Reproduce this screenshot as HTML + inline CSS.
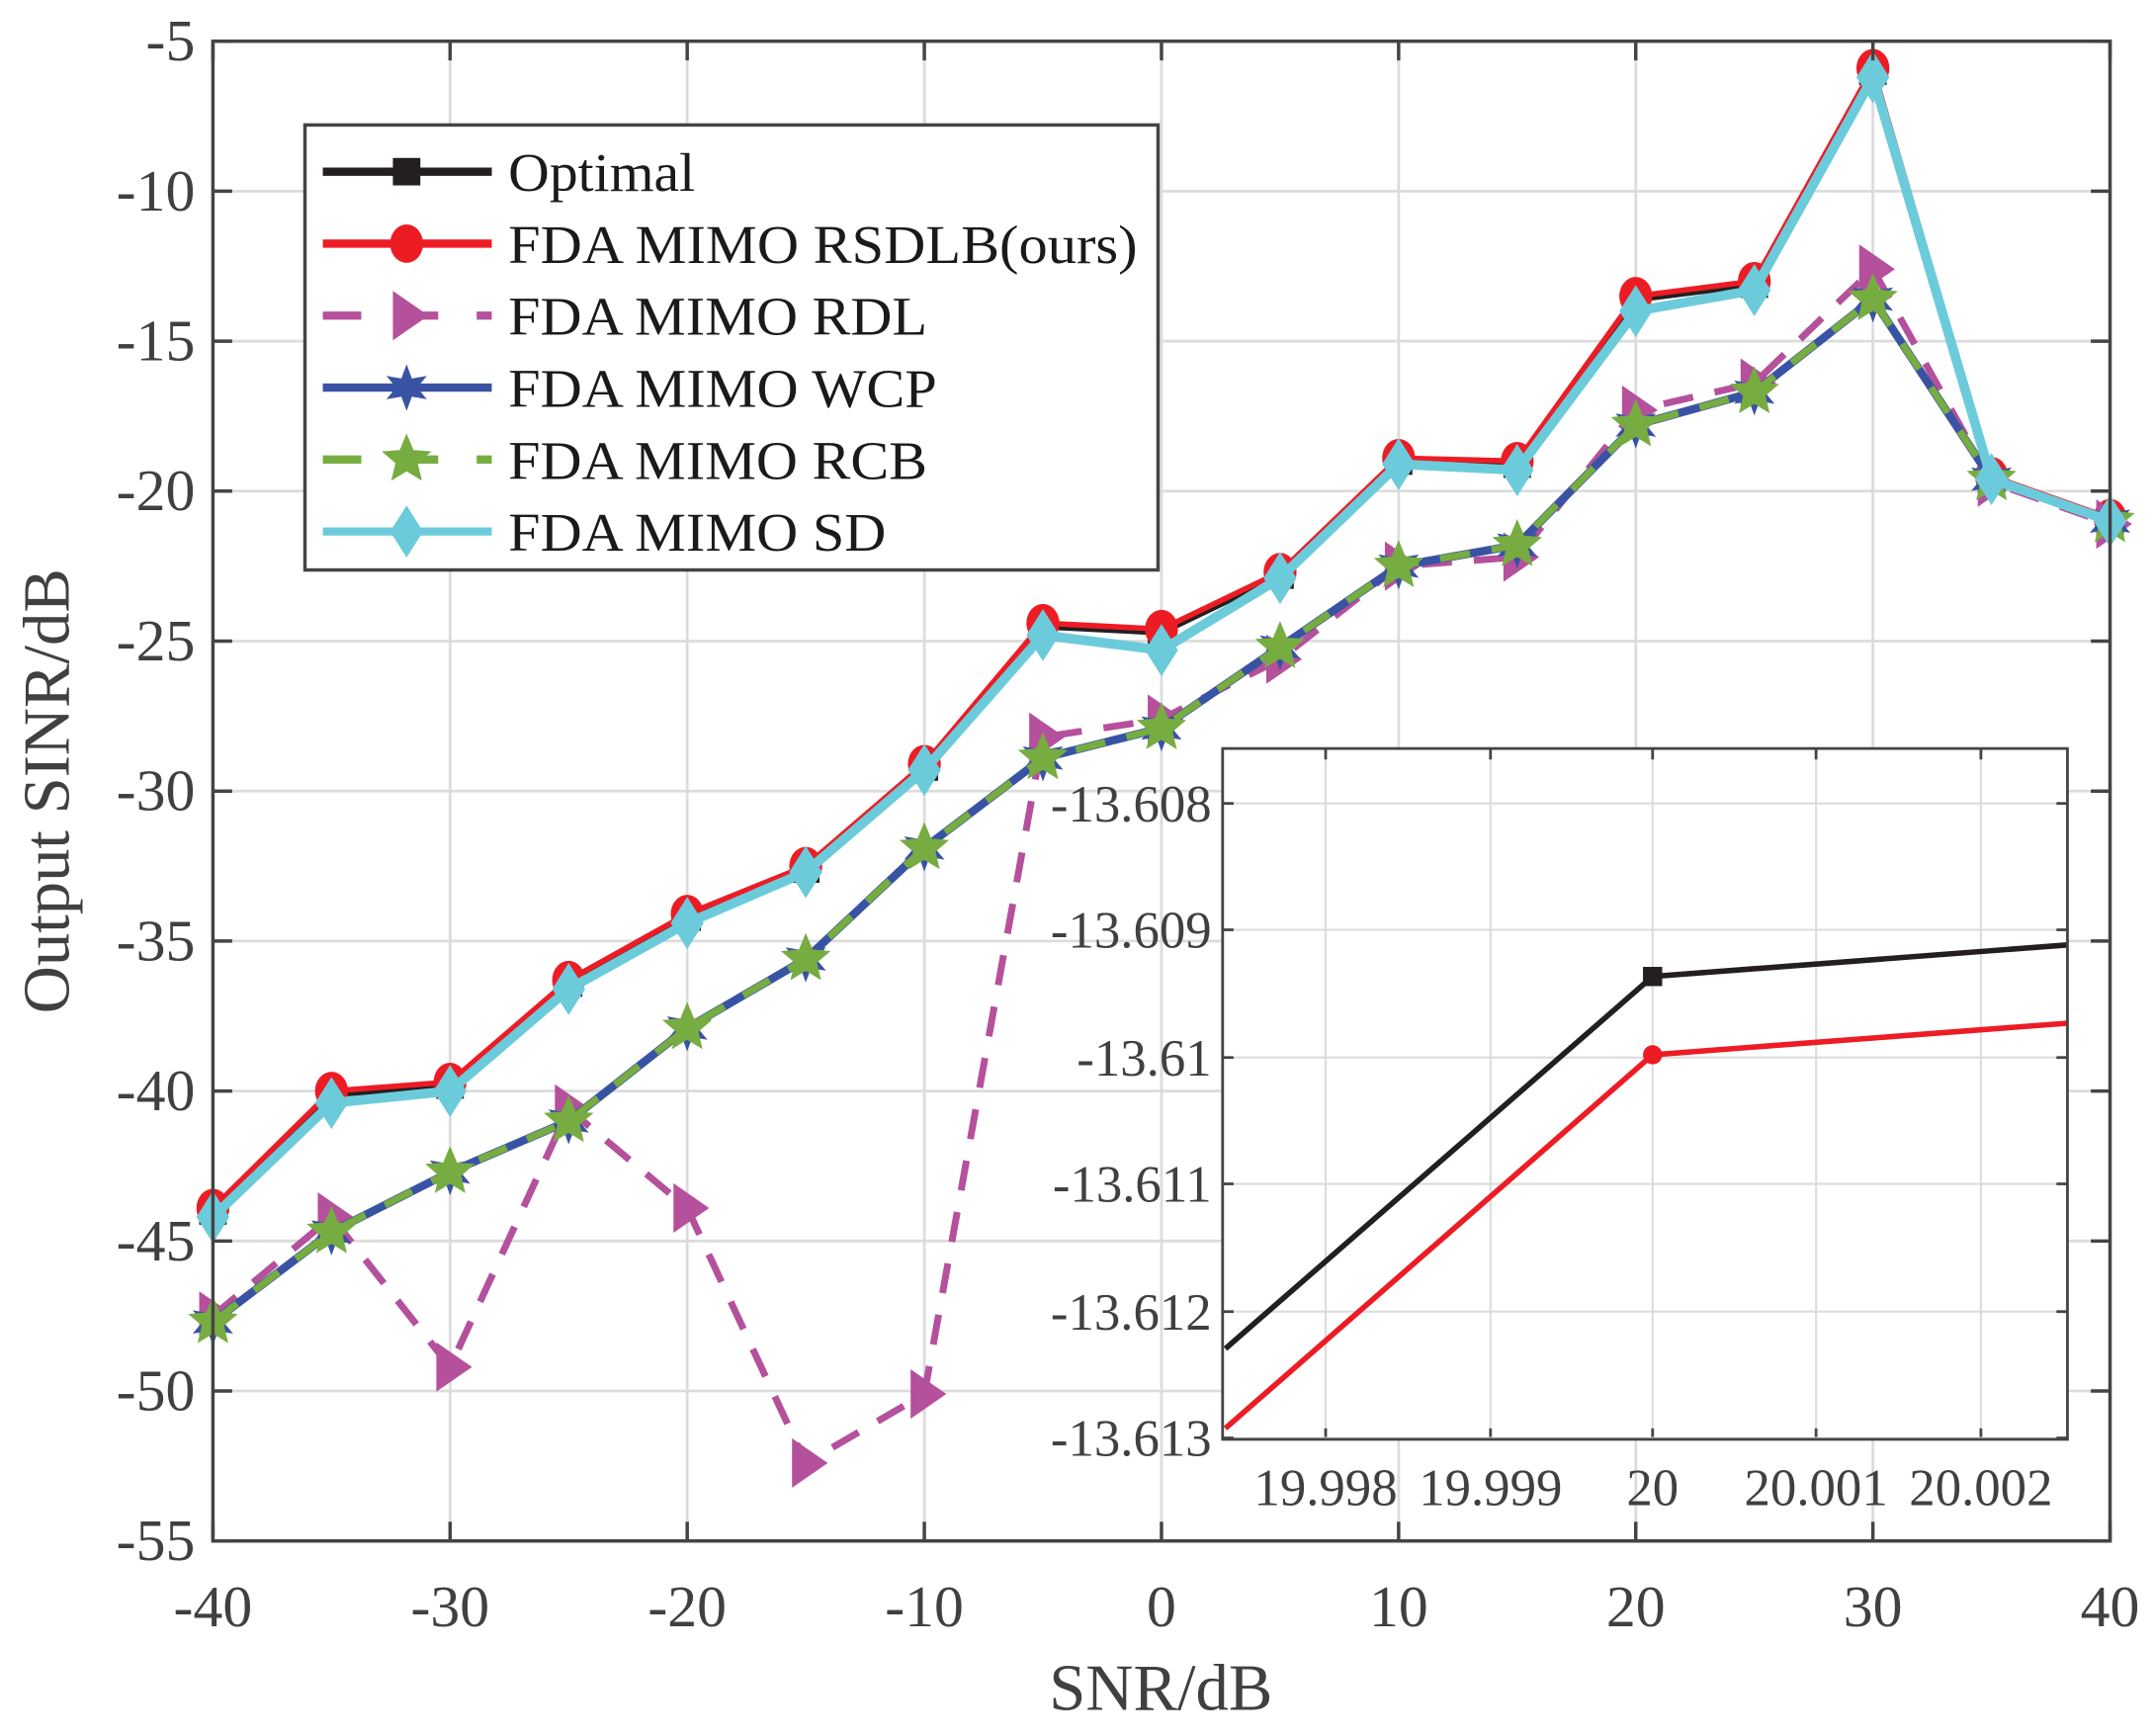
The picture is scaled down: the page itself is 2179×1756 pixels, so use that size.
<!DOCTYPE html>
<html><head><meta charset="utf-8"><style>
html,body{margin:0;padding:0;background:#fff;}
svg{display:block;}
text{font-family:"Liberation Serif",serif;fill:#404040;}
</style></head><body>
<svg id="s" width="2179" height="1756" viewBox="0 0 1568 1264" preserveAspectRatio="none" xmlns="http://www.w3.org/2000/svg">
<rect width="1568" height="1264" fill="#fff"/>
<g id="grid"></g>
<g id="series"></g>
<g id="axes"></g>
<g id="legend"></g>
<g id="inset"></g>
</svg>
<script>
const NS="http://www.w3.org/2000/svg";
function el(p,t,a,txt){const e=document.createElementNS(NS,t);for(const k in a)e.setAttribute(k,a[k]);if(txt!==undefined)e.textContent=txt;p.appendChild(e);return e;}
const G=id=>document.getElementById(id);
const L=155,R=1536,T=30,B=1122;
const X=v=>L+(v+40)/80*(R-L), Y=v=>T+(-5-v)/50*(B-T);
const grid=G('grid'),axes=G('axes');
for(let v=-40;v<=40;v+=10){el(grid,'line',{x1:X(v),x2:X(v),y1:T,y2:B,stroke:'#dcdcdc','stroke-width':2});
 el(axes,'line',{x1:X(v),x2:X(v),y1:B,y2:B-14,stroke:'#444','stroke-width':2.5});el(axes,'line',{x1:X(v),x2:X(v),y1:T,y2:T+14,stroke:'#444','stroke-width':2.5});
 el(axes,'text',{x:X(v),y:1184,'font-size':43,'text-anchor':'middle'},v);}
for(let v=-5;v>=-55;v-=5){el(grid,'line',{x1:L,x2:R,y1:Y(v),y2:Y(v),stroke:'#dcdcdc','stroke-width':2});
 el(axes,'line',{x1:L,x2:L+14,y1:Y(v),y2:Y(v),stroke:'#444','stroke-width':2.5});el(axes,'line',{x1:R,x2:R-14,y1:Y(v),y2:Y(v),stroke:'#444','stroke-width':2.5});
 el(axes,'text',{x:142,y:Y(v)+14,'font-size':43,'text-anchor':'end'},v);}
el(axes,'rect',{x:L,y:T,width:R-L,height:B-T,fill:'none',stroke:'#444','stroke-width':2.5});
el(axes,'text',{x:845,y:1245,'font-size':48,'text-anchor':'middle'},'SNR/dB');
el(axes,'text',{x:0,y:0,'font-size':48,'text-anchor':'middle',transform:'translate(50,576) rotate(-90)'},'Output SINR/dB');

const xs=[];for(let v=-40;v<=40;v+=5)xs.push(v);
const opt=[-44,-40.1,-39.8,-36.4,-34.2,-32.6,-29.2,-24.5,-24.7,-22.8,-19,-19.1,-13.6,-13.1,-6,-19.6,-21];
const sd=[-44.2,-40.4,-40,-36.6,-34.4,-32.7,-29.3,-24.8,-25.3,-22.9,-19.1,-19.3,-14,-13.3,-6.2,-19.6,-21];
const rdl=[-47.5,-44.2,-49.2,-40.6,-43.9,-52.4,-50.1,-28.2,-27.6,-25.6,-22.5,-22.2,-17.3,-16.4,-12.6,-19.7,-21.1];
const wcp=[-47.7,-44.7,-42.7,-41,-37.9,-35.6,-31.9,-28.9,-27.9,-25.2,-22.5,-21.8,-17.8,-16.7,-13.6,-19.6,-21];
function star(cx,cy,r,pts){let s='';const n=pts*2;for(let i=0;i<n;i++){const rr=i%2?r*0.45:r;const a=-Math.PI/2+i*Math.PI/pts;s+=(cx+rr*Math.cos(a))+','+(cy+rr*Math.sin(a))+' ';}return s;}
function marker(g,type,x,y,c){
 if(type=='sq')el(g,'rect',{x:x-10,y:y-10,width:20,height:20,fill:c});
 else if(type=='ci')el(g,'ellipse',{cx:x,cy:y,rx:12,ry:14,fill:c});
 else if(type=='tri')el(g,'polygon',{points:`${x-10},${y-18} ${x+16},${y} ${x-10},${y+18}`,fill:c});
 else if(type=='hex')el(g,'polygon',{points:star(x,y,17,6),fill:c});
 else if(type=='st')el(g,'polygon',{points:star(x,y,19,5),fill:c});
 else if(type=='di')el(g,'polygon',{points:`${x},${y-19} ${x+12},${y} ${x},${y+19} ${x-12},${y}`,fill:c});
}
const S=G('series');
function series(d,c,w,dash,m){const pts=xs.map((v,i)=>X(v)+','+Y(d[i])).join(' ');
 const a={points:pts,fill:'none',stroke:c,'stroke-width':w,'stroke-linejoin':'round'};if(dash)a['stroke-dasharray']=dash;el(S,'polyline',a);
 xs.forEach((v,i)=>marker(S,m,X(v),Y(d[i]),c));}
series(opt,'#231f20',5,null,'sq');
series(opt.map(v=>v+0.1),'#ed1c24',4,null,'ci');
series(rdl,'#b5509c',5,'22,16','tri');
series(wcp,'#3953a4',6,null,'hex');
series(wcp,'#77ac41',5,'22,16','st');
series(sd,'#6ccbdb',7,null,'di');

const lg=G('legend');
el(lg,'rect',{x:222,y:91,width:621,height:324,fill:'#fff',stroke:'#444','stroke-width':2.5});
const items=[['Optimal','#231f20',null,'sq',136],['FDA MIMO RSDLB(ours)','#ed1c24',null,'ci',458],['FDA MIMO RDL','#b5509c','28,28','tri',305],['FDA MIMO WCP','#3953a4',null,'hex',312],['FDA MIMO RCB','#77ac41','28,28','st',305],['FDA MIMO SD','#6ccbdb',null,'di',275]];
items.forEach((it,i)=>{const y=125+i*52.4;const a={x1:235,x2:358,y1:y,y2:y,stroke:it[1],'stroke-width':6};if(it[2])a['stroke-dasharray']=it[2];el(lg,'line',a);marker(lg,it[3],296,y,it[1]);
 el(lg,'text',{x:370,y:y+14,'font-size':40,style:'fill:#1a1a1a',textLength:it[4],lengthAdjust:'spacingAndGlyphs'},it[0]);});

const ins=G('inset');
const IL=890,IR=1505,IT=545,IB=1048;
el(ins,'rect',{x:IL,y:IT,width:IR-IL,height:IB-IT,fill:'#fff'});
const ixs=[[965,'19.998'],[1085,'19.999'],[1203,'20'],[1322,'20.001'],[1442,'20.002']];
const iys=[[585,'-13.608'],[677,'-13.609'],[770,'-13.61'],[862,'-13.611'],[955,'-13.612'],[1047,'-13.613']];
ixs.forEach(([x,t])=>{el(ins,'line',{x1:x,x2:x,y1:IT,y2:IB,stroke:'#dcdcdc','stroke-width':1.5});el(ins,'line',{x1:x,x2:x,y1:IB,y2:IB-8,stroke:'#444','stroke-width':2});el(ins,'line',{x1:x,x2:x,y1:IT,y2:IT+8,stroke:'#444','stroke-width':2});el(ins,'text',{x:x,y:1096,'font-size':38,'text-anchor':'middle'},t);});
iys.forEach(([y,t])=>{el(ins,'line',{x1:IL,x2:IR,y1:y,y2:y,stroke:'#dcdcdc','stroke-width':1.5});el(ins,'line',{x1:IL,x2:IL+8,y1:y,y2:y,stroke:'#444','stroke-width':2});el(ins,'line',{x1:IR,x2:IR-8,y1:y,y2:y,stroke:'#444','stroke-width':2});el(ins,'text',{x:882,y:y+13,'font-size':38,'text-anchor':'end'},t);});
el(ins,'polyline',{points:'892,982 1203,711 1505,688',fill:'none',stroke:'#231f20','stroke-width':4});
el(ins,'rect',{x:1196,y:704,width:14,height:14,fill:'#231f20'});
el(ins,'polyline',{points:'892,1040 1203,768 1505,745',fill:'none',stroke:'#ed1c24','stroke-width':4});
el(ins,'circle',{cx:1203,cy:768,r:7,fill:'#ed1c24'});
el(ins,'rect',{x:IL,y:IT,width:IR-IL,height:IB-IT,fill:'none',stroke:'#444','stroke-width':2});
</script>
</body></html>
